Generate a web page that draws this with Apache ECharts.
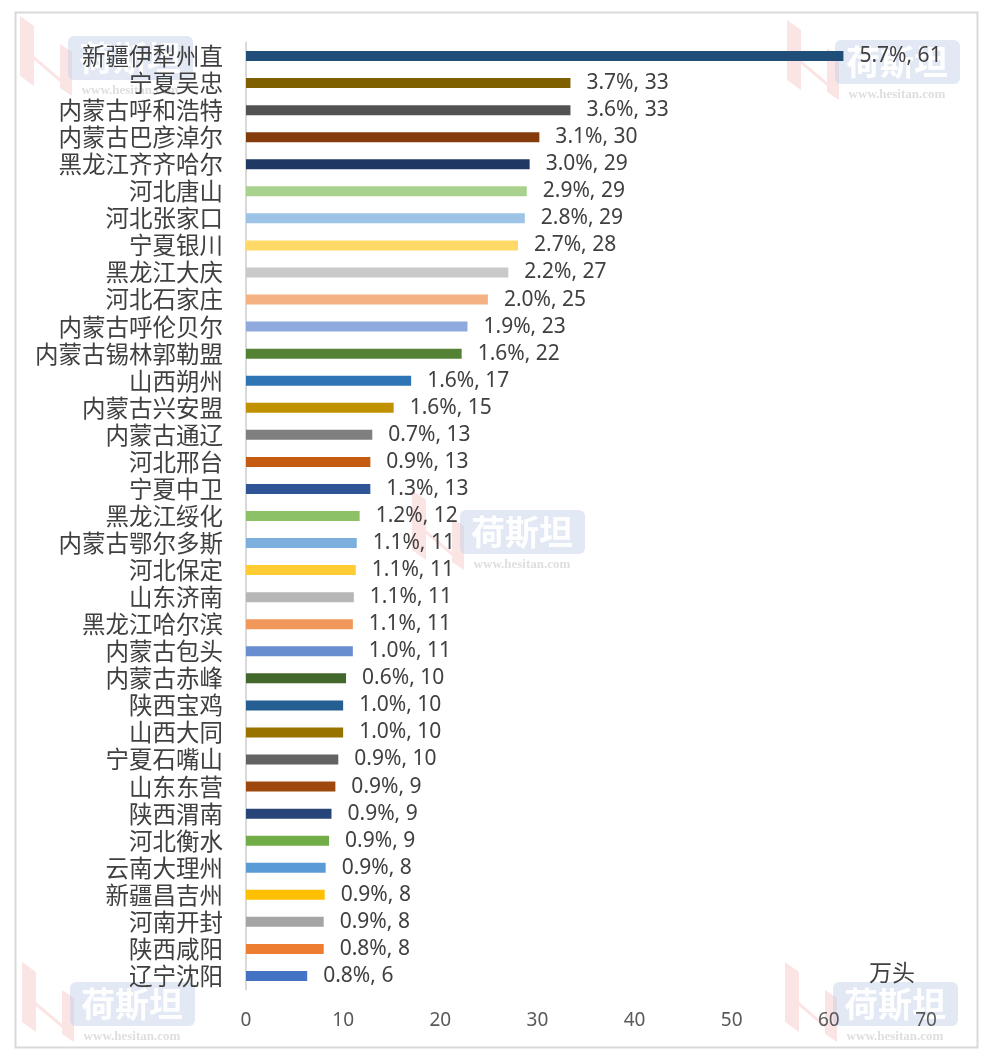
<!DOCTYPE html>
<html>
<head>
<meta charset="utf-8">
<script src="https://cdn.jsdelivr.net/npm/echarts@6/dist/echarts.min.js"></script>
<style>
  html, body { margin: 0; padding: 0; background: #fff; }
  #chart { width: 989px; height: 1058px; }
</style>
</head>
<body>
<div id="chart"></div>
<script>
// 地区（从上到下）
var regions = ['新疆伊犁州直', '宁夏吴忠', '内蒙古呼和浩特', '内蒙古巴彦淖尔', '黑龙江齐齐哈尔',
    '河北唐山', '河北张家口', '宁夏银川', '黑龙江大庆', '河北石家庄', '内蒙古呼伦贝尔',
    '内蒙古锡林郭勒盟', '山西朔州', '内蒙古兴安盟', '内蒙古通辽', '河北邢台', '宁夏中卫',
    '黑龙江绥化', '内蒙古鄂尔多斯', '河北保定', '山东济南', '黑龙江哈尔滨', '内蒙古包头',
    '内蒙古赤峰', '陕西宝鸡', '山西大同', '宁夏石嘴山', '山东东营', '陕西渭南', '河北衡水',
    '云南大理州', '新疆昌吉州', '河南开封', '陕西咸阳', '辽宁沈阳'];
// 存栏（万头），按条形长度估读
var stock = [61.5, 33.4, 33.4, 30.2, 29.2, 28.9, 28.7, 28.0, 27.0, 24.9, 22.8,
    22.2, 17.0, 15.2, 13.0, 12.8, 12.8, 11.7, 11.4, 11.3, 11.1, 11.0, 11.0,
    10.3, 10.0, 10.0, 9.5, 9.2, 8.8, 8.55, 8.2, 8.1, 8.0, 8.0, 6.3];
// 标签上显示的数字
var stockLabel = [61, 33, 33, 30, 29, 29, 29, 28, 27, 25, 23,
    22, 17, 15, 13, 13, 13, 12, 11, 11, 11, 11, 11,
    10, 10, 10, 10, 9, 9, 9, 8, 8, 8, 8, 6];
// 占比（%）
var share = ['5.7', '3.7', '3.6', '3.1', '3.0', '2.9', '2.8', '2.7', '2.2', '2.0', '1.9',
    '1.6', '1.6', '1.6', '0.7', '0.9', '1.3', '1.2', '1.1', '1.1', '1.1', '1.1', '1.0',
    '0.6', '1.0', '1.0', '0.9', '0.9', '0.9', '0.9', '0.9', '0.9', '0.9', '0.8', '0.8'];
var barColors = ['#1f4e79', '#7f6000', '#525252', '#843c0c', '#203864', '#a9d18e',
    '#9dc3e6', '#ffd966', '#c9c9c9', '#f4b183', '#8faadc', '#548235', '#2e75b6',
    '#bf9000', '#7f7f7f', '#c55a11', '#2f5597', '#8cc168', '#7cafdd', '#ffcd33',
    '#b7b7b7', '#f1975a', '#698ed0', '#43682b', '#255e91', '#997300', '#636363',
    '#9e480e', '#264478', '#70ad47', '#5b9bd5', '#ffc000', '#a5a5a5', '#ed7d31', '#4472c4'];

// 水印
function watermark(x, y) {
    return {
        type: 'group', left: x, top: y, z: -10, silent: true,
        children: [
            {type: 'polygon', shape: {points: [[0, 0], [14, 10], [14, 40], [40, 62], [40, 28], [52, 36], [52, 80], [40, 72], [40, 66], [14, 44], [14, 70], [0, 60]]},
                style: {fill: 'rgba(235,130,130,0.22)'}},
            {type: 'rect', shape: {x: 48, y: 20, width: 125, height: 44, r: 6},
                style: {fill: 'rgba(190,206,232,0.45)'}},
            {type: 'text', style: {x: 110, y: 42, text: '荷斯坦', fill: 'rgba(255,255,255,0.95)',
                font: 'bold 34px "Noto Sans CJK SC"', align: 'center', verticalAlign: 'middle'}},
            {type: 'text', style: {x: 110, y: 75, text: 'www.hesitan.com', fill: 'rgba(160,160,160,0.35)',
                font: 'bold 13px "Liberation Serif"', align: 'center', verticalAlign: 'middle'}}
        ]
    };
}

var chart = echarts.init(document.getElementById('chart'));
chart.setOption({
    backgroundColor: '#fff',
    animation: false,
    grid: {left: 246, right: 63, top: 42.5, bottom: 68.5, containLabel: false},
    xAxis: {
        type: 'value', min: 0, max: 70, interval: 10,
        axisLine: {show: false}, axisTick: {show: false}, splitLine: {show: false},
        axisLabel: {color: '#595959', fontSize: 19, fontFamily: 'Noto Sans', margin: 22}
    },
    yAxis: {
        type: 'category', inverse: true, data: regions,
        axisLine: {show: true, lineStyle: {color: '#d9d9d9', width: 2}},
        axisTick: {show: false},
        axisLabel: {interval: 0, color: '#404040', fontSize: 23.5, fontFamily: 'Noto Sans CJK SC', margin: 23}
    },
    series: [{
        type: 'bar',
        data: stock.map(function (v, i) {
            return {value: v, itemStyle: {color: barColors[i]}};
        }),
        barWidth: 10,
        label: {
            show: true, position: 'right', distance: 16,
            color: '#404040', fontSize: 21, fontFamily: 'Noto Sans',
            formatter: function (p) {
                return share[p.dataIndex] + '%, ' + stockLabel[p.dataIndex];
            }
        }
    }],
    graphic: [
        {type: 'rect', left: 13, top: 10, z: -20, silent: true,
            shape: {width: 962, height: 1035},
            style: {fill: null, stroke: '#d9d9d9', lineWidth: 2}},
        watermark(20, 16),
        watermark(787, 20),
        watermark(412, 490),
        watermark(22, 962),
        watermark(785, 962),
        {type: 'text', left: 869, top: 961, z: 10,
            style: {text: '万头', fill: '#404040', font: '23px "Noto Sans CJK SC"'}}
    ]
});
</script>
</body>
</html>
